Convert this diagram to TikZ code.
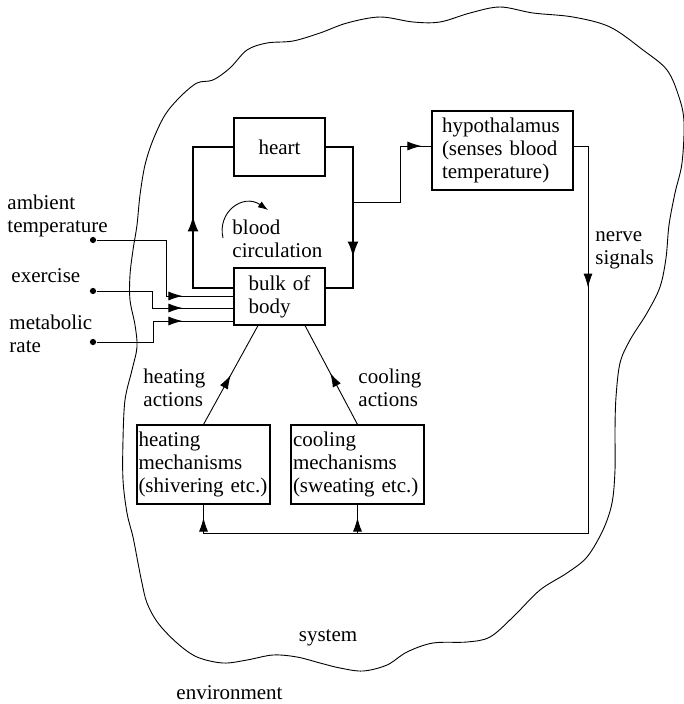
\documentclass[tikz,border=0pt]{standalone}
\usepackage{fontspec}
\setmainfont{Liberation Serif}
\usetikzlibrary{arrows.meta,decorations.markings}

\tikzset{
  >={Latex[length=10pt,width=7pt]},
  arrowat/.style={postaction={decorate,decoration={markings,
      mark=at position #1 with {\arrow{Latex[length=14pt,width=9pt]}}}}},
  bigarrowat/.style={postaction={decorate,decoration={markings,
      mark=at position #1 with {\arrow{Latex[length=16pt,width=11pt]}}}}},
}

\begin{document}
\begin{tikzpicture}[x=1pt,y=-1pt,line width=0.9pt,
  every node/.style={font=\fontsize{21}{23}\selectfont,inner sep=0pt},
  box/.style={draw,line width=1.1pt,align=left},
  txt/.style={align=left,anchor=west},
  blood/.style={line width=2.8pt},
  indot/.style={circle,fill,inner sep=2.2pt}
]
\useasboundingbox (0,0) rectangle (684,704);

% system boundary
\draw plot[smooth cycle,tension=0.55] coordinates {
  (165,115) (180,97) (197,83) (213,80) (230,68) (247,50) (267,43) (293,41)
  (320,33) (347,23) (380,17) (413,22) (440,22) (470,13) (500,7) (533,13)
  (573,17) (610,27) (643,50) (667,70) (679,97) (684,122) (682,163) (675,193)
  (669,225) (666,258) (660,287) (647,313) (630,340) (620,363) (616,397)
  (615,430) (615,470) (612,503) (603,530) (587,557) (567,573) (540,590)
  (513,617) (490,637) (467,642) (433,643) (407,652) (387,665) (363,671)
  (340,668) (320,663) (297,657) (273,655) (247,660) (223,663) (197,657)
  (177,643) (158,623) (147,603) (142,583) (138,563) (133,537) (127,513)
  (123,480) (123,440) (125,400) (132,370) (137,347) (135,325) (130,300)
  (130,275) (133,250) (137,225) (140,195) (145,165) (153,140)};

% boxes
\node[box,align=center,minimum width=91pt,minimum height=58pt] (heart) at (279.5,147) {heart};
\node[box,text width=62pt,inner xsep=14.5pt,minimum height=57pt] (bulk) at (279.5,296.5) {bulk of\\body};
\node[box,text width=121pt,inner xsep=10pt,minimum height=79pt] (hyp) at (502.5,150.5) {hypothalamus\\(senses blood\\temperature)};
\node[box,text width=130pt,inner xsep=1.5pt,minimum height=79pt] (heat) at (203.5,464.5) {heating\\mechanisms\\(shivering etc.)};
\node[box,text width=129pt,inner xsep=2pt,minimum height=79pt] (cool) at (357.5,464.5) {cooling\\mechanisms\\(sweating etc.)};

% inputs
\node[indot] (amb) at (93,240) {};
\node[indot] (exc) at (93,291) {};
\node[indot] (met) at (93,342) {};
\node[txt] (ambl) at (7,215.7) {ambient\\temperature};
\node[anchor=base west] (excl) at (11,282) {exercise};
\node[txt] (metl) at (9,333.7) {metabolic\\rate};

% labels
\node[txt] (circ) at (232,238.7) {blood\\circulation};
\node[txt] (hact) at (143,387.5) {heating\\actions};
\node[txt] (cact) at (358,387.5) {cooling\\actions};
\node[txt] (nerve) at (595,250) {nerve\\signals};
\node[anchor=base] (sys) at (328,641) {system};
\node[anchor=base] (env) at (229.5,699) {environment};

\coordinate (lb) at (193,288);
\coordinate (lt) at (193,147);
\coordinate (rt) at (353,147);
\coordinate (rb) at (353,288);
\coordinate (tap) at (353,202);
\coordinate (hj) at (400,146);
\coordinate (nc) at (588,533);
\coordinate (ja) at (166,296);
\coordinate (jb) at (152,308);
\coordinate (jc) at (153,321);

% blood loop
\draw[blood,bigarrowat=113pt] ([yshift=8.5pt]bulk.west) -- (lb) -- (lt) -- (heart.west);
\draw[blood,bigarrowat=138pt] (heart.east) -- (rt) -- (rb) -- ([yshift=8.5pt]bulk.east);
\draw[->] (223,238) .. controls (217,212) and (243,193) .. (268,210);

% sensing and control
\draw[arrowat=-10pt] (tap) -| (hj) -- ([yshift=4.5pt]hyp.west);
\draw[arrowat=156pt,arrowat=-13pt] ([yshift=4.5pt]hyp.east) -| (nc) -| (heat.south);
\draw[arrowat=-13pt] (cool.south |- nc) -- (cool.south);
\draw[arrowat=0.5] (heat.north) -- ([xshift=-21.5pt]bulk.south);
\draw[arrowat=0.52] (cool.north) -- ([xshift=25.5pt]bulk.south);

% inputs to body
\draw[arrowat=-51pt] (amb) -| (ja) -- ([yshift=0.5pt]bulk.west);
\draw[arrowat=-51pt] (exc) -| (jb) -- ([yshift=-11.5pt]bulk.west);
\draw[arrowat=-51pt] (met) -| (jc) -- ([yshift=-24.5pt]bulk.west);
\end{tikzpicture}
\end{document}
